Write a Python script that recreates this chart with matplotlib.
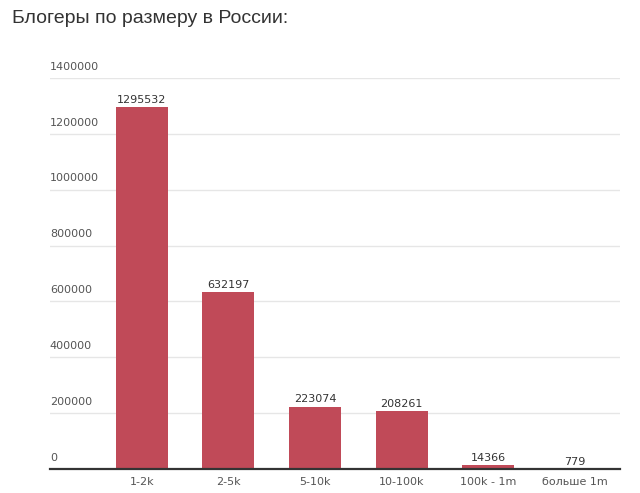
import numpy as np
import matplotlib
matplotlib.use('Agg')
from matplotlib import pyplot as plt

# данные
categories = ['1-2k', '2-5k', '5-10k', '10-100k', '100k - 1m', 'больше 1m']
values = [1295532, 632197, 223074, 208261, 14366, 779]
yticks = [0, 200000, 400000, 600000, 800000, 1000000, 1200000, 1400000]

bar_color = '#c04a58'

fig = plt.figure(figsize=(6.4, 4.93), dpi=100)
ax = fig.add_axes([0.078, 0.0487, 0.891, 0.7933])

x = np.arange(len(categories))
ax.bar(x, values, width=0.6, color=bar_color, zorder=3)

for xi, v in zip(x, values):
    ax.text(xi, v + 8000, str(v), ha='center', va='bottom',
            fontsize=8, color='#333333', zorder=4)

ax.set_xlim(-1.06, 5.52)
ax.set_ylim(0, 1400000)

# сетка и подписи оси Y над линиями
for t in yticks:
    if t > 0:
        ax.axhline(t, color='#e6e6e6', lw=1, zorder=1)
    ax.text(-1.06, t + 22000, str(t), ha='left', va='bottom',
            fontsize=8, color='#555555')

ax.set_yticks([])
ax.set_xticks(x)
ax.set_xticklabels(categories, fontsize=8, color='#555555')
ax.tick_params(axis='x', length=0, pad=6)

for s in ['top', 'right', 'left']:
    ax.spines[s].set_visible(False)
ax.spines['bottom'].set_color('#333333')
ax.spines['bottom'].set_linewidth(1.6)
ax.spines['bottom'].set_zorder(5)

fig.text(0.019, 0.963, 'Блогеры по размеру в России:', ha='left', va='center',
         fontsize=14, color='#333333', family='Liberation Sans')

fig.savefig('out.png', dpi=100)
